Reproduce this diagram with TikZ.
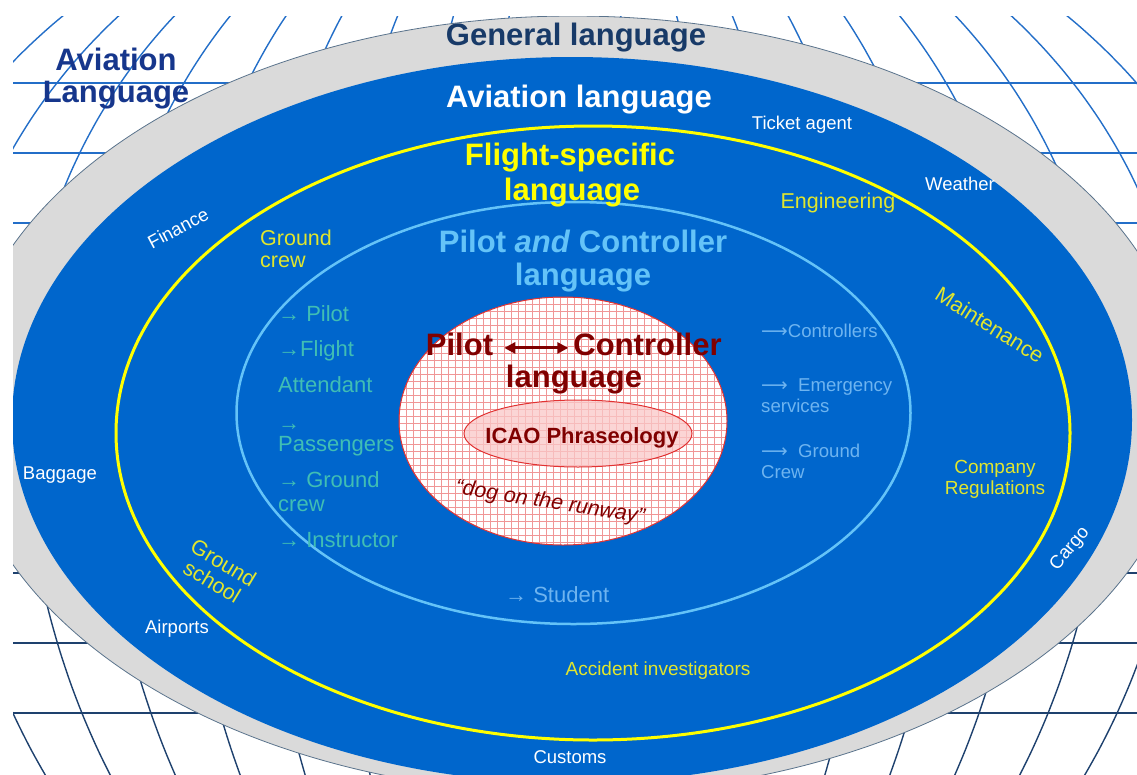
\documentclass[tikz,border=0pt]{standalone}
\usepackage{fontspec}
\setmainfont{Liberation Sans}
\newfontfamily\djv{DejaVu Sans}
\usetikzlibrary{arrows.meta}
\definecolor{bgblue}{RGB}{0,102,204}
\definecolor{ringgrey}{RGB}{218,218,218}
\definecolor{ringedge}{RGB}{90,115,140}
\definecolor{gridtop}{RGB}{35,110,200}
\definecolor{gridbot}{RGB}{30,65,110}
\definecolor{navytxt}{RGB}{24,58,104}
\definecolor{avnavy}{RGB}{22,54,140}
\definecolor{ylw}{RGB}{255,255,0}
\definecolor{ylwlabel}{RGB}{225,230,45}
\definecolor{cyanl}{RGB}{100,195,248}
\definecolor{tealtxt}{RGB}{64,190,180}
\definecolor{ltblue}{RGB}{110,180,240}
\definecolor{dred}{RGB}{128,0,0}
\definecolor{pinkgrid}{RGB}{240,150,150}
\definecolor{pinkedge}{RGB}{225,50,50}
\definecolor{pinkfill}{RGB}{250,200,200}
\tikzset{
  bigtitle/.style={font=\fontsize{31}{34}\selectfont\bfseries, inner sep=0pt, anchor=base},
  whitelab/.style={font=\fontsize{18.5}{21}\selectfont, inner sep=0pt, text=white},
  ylab/.style={font=\fontsize{21.5}{24}\selectfont, inner sep=0pt, text=ylwlabel},
  ylabs/.style={font=\fontsize{19}{21}\selectfont, inner sep=0pt, text=ylwlabel},
  teallab/.style={font=\fontsize{22}{24}\selectfont, inner sep=0pt, text=tealtxt, anchor=base west},
  bluelab/.style={font=\fontsize{18.6}{21}\selectfont, inner sep=0pt, text=ltblue, anchor=base west},
  gridline/.style={line width=1.4pt},
}
\begin{document}
\begin{tikzpicture}[x=1pt,y=-1pt]
\useasboundingbox (0,0) rectangle (1137,774);
\begin{scope}
\clip (13,16) rectangle (1137,774);
% background globe grid
\foreach \yy in {83,153,223,293,363}
  \draw[gridline, gridtop] (13,\yy) -- (1137,\yy);
\foreach \yy in {433,503,573,643,713}
  \draw[gridline, gridbot] (13,\yy) -- (1137,\yy);
\foreach \m in {1,...,9}{
  \draw[gridline, gridtop, shift={(565,401)}] plot[domain=180:360, samples=60, smooth] ({77.5*\m*cos(\x)},{555*sin(\x)});
  \draw[gridline, gridbot, shift={(565,401)}] plot[domain=0:180, samples=60, smooth] ({77.5*\m*cos(\x)},{686*sin(\x)});
}
% rings
\draw[fill=ringgrey, draw=ringedge, line width=0.8pt] (573,405) ellipse [x radius=614, y radius=389];
\fill[bgblue] (572,420) ellipse [x radius=560, y radius=363];
\draw[ylw, line width=3pt] (593,433) ellipse [x radius=477, y radius=307];
\draw[cyanl, line width=2.5pt] (573.5,413) ellipse [x radius=337, y radius=211];
% central ellipse with grid
\begin{scope}
  \clip (563,421) ellipse [x radius=164, y radius=124];
  \fill[white] (399,297) rectangle (727,545);
  \foreach \i in {0,...,47}
    \draw[pinkgrid, line width=0.7pt] ({399+7*\i},297) -- ({399+7*\i},545);
  \foreach \j in {0,...,36}
    \draw[pinkgrid, line width=0.7pt] (399,{297+7*\j}) -- (727,{297+7*\j});
\end{scope}
\draw[pinkedge, line width=1pt] (563,421) ellipse [x radius=164, y radius=124];
\draw[pinkedge, line width=1pt, fill=pinkfill, fill opacity=0.75] (578,433.5) ellipse [x radius=114, y radius=33.5];
\end{scope}

% titles
\node[bigtitle, text=avnavy] (avt1) at (116,70) {Aviation};
\node[bigtitle, text=avnavy] (avt2) at (116,102) {Language};
\node[bigtitle, text=navytxt] (gen) at (576,45) {General language};
\node[bigtitle, text=white] (avl) at (579,107) {Aviation language};
\node[bigtitle, text=ylw] (fs1) at (570,165) {Flight-specific};
\node[bigtitle, text=ylw] (fs2) at (572,200) {language};
\node[bigtitle, text=cyanl] (pc1) at (583,252) {Pilot \textit{and} Controller};
\node[bigtitle, text=cyanl] (pc2) at (583,285) {language};
\node[bigtitle, text=dred] (pil) at (459.5,355) {Pilot};
\node[bigtitle, text=dred] (con) at (647.5,355) {Controller};
\node[bigtitle, text=dred] (lan) at (574,387) {language};
\draw[dred, line width=3pt, {Triangle[length=11pt,width=11pt]}-{Triangle[length=11pt,width=11pt]}]
  ([xshift=11pt,yshift=-4pt]pil.east) -- ([xshift=-5pt,yshift=-4pt]con.west);
\node[font=\fontsize{22}{24}\selectfont\bfseries, text=dred, inner sep=0pt, anchor=base] (icao) at (582,443) {ICAO Phraseology};
\node[font=\fontsize{21.5}{24}\selectfont\itshape, text=dred, inner sep=0pt, rotate=-9] (dog) at (550,503) {“dog on the runway”};

% white labels
\node[whitelab] (ticket) at (802,125) {Ticket agent};
\node[whitelab] (weather) at (960,184) {Weather};
\node[whitelab, rotate=28] (finance) at (178,228) {Finance};
\node[whitelab] (baggage) at (60,475) {Baggage};
\node[whitelab] (airports) at (177,629) {Airports};
\node[whitelab] (customs) at (570,757) {Customs};
\node[whitelab, rotate=50] (cargo) at (1070,549) {Cargo};

% yellow labels
\node[ylab, anchor=base west] (gc1) at (260,245) {Ground};
\node[ylab, anchor=base west] (gc2) at (260,267) {crew};
\node[ylab] (eng) at (838,203) {Engineering};
\node[ylab, rotate=-32] (maint) at (990,325) {Maintenance};
\node[ylabs, anchor=base] (cr1) at (995,473) {Company};
\node[ylabs, anchor=base] (cr2) at (995,494) {Regulations};
\node[ylab, rotate=-31, align=center, font=\fontsize{21.5}{22}\selectfont] (gs) at (218,572) {Ground\\school};
\node[ylabs] (acc) at (658,671) {Accident investigators};

% teal labels (left)
\node[teallab] (t1) at (278,321) {→ Pilot};
\node[teallab] (t2) at (278,356) {→Flight};
\node[teallab] (t3) at (278,392) {Attendant};
\node[teallab] (t4) at (278,430) {→};
\node[teallab] (t5) at (278,451) {Passengers};
\node[teallab] (t6) at (278,487) {→ Ground};
\node[teallab] (t7) at (278,511) {crew};
\node[teallab] (t8) at (278,547) {→ Instructor};

% light blue labels (right)
\node[bluelab] (r1) at (761,337) {{\djv ⟶}Controllers};
\node[bluelab] (r2) at (761,391) {{\djv ⟶}\ \ Emergency};
\node[bluelab] (r3) at (761,412) {services};
\node[bluelab] (r4) at (761,457) {{\djv ⟶}\ \ Ground};
\node[bluelab] (r5) at (761,478) {Crew};
\node[teallab, text=ltblue] (stu) at (505,602) {→ Student};
\end{tikzpicture}
\end{document}
